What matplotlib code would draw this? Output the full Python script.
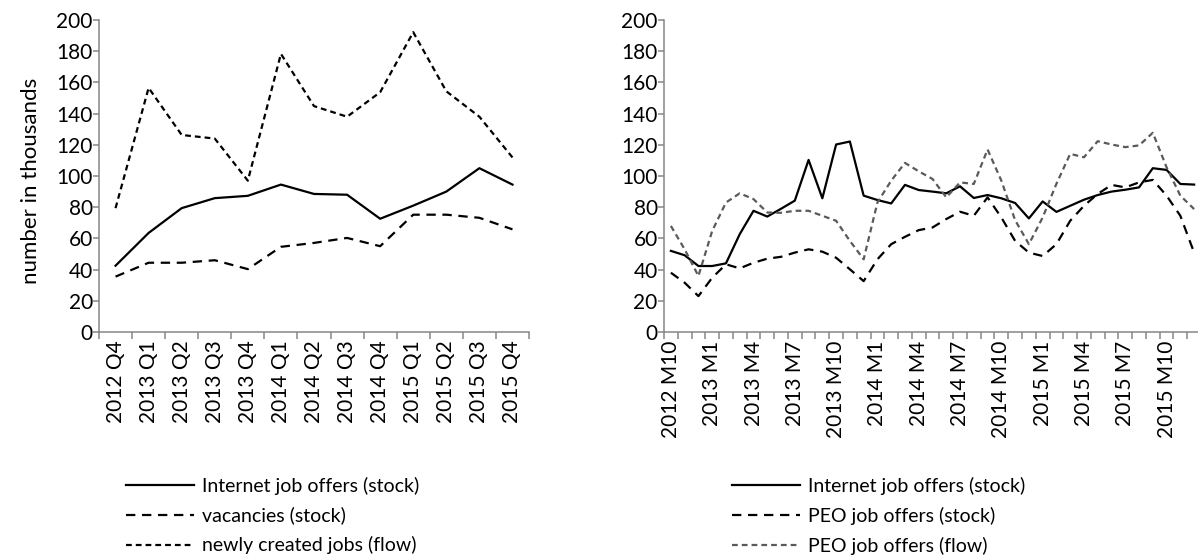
import matplotlib
matplotlib.use("Agg")
import matplotlib.pyplot as plt
from matplotlib.lines import Line2D

plt.rcParams['font.family'] = ['Lato', 'DejaVu Sans']

# left panel: quarterly data, thousands
quarters = ['2012 Q4', '2013 Q1', '2013 Q2', '2013 Q3', '2013 Q4',
            '2014 Q1', '2014 Q2', '2014 Q3', '2014 Q4',
            '2015 Q1', '2015 Q2', '2015 Q3', '2015 Q4']
internet_q = [42.5, 63.5, 79.4, 85.8, 87.3, 94.5, 88.5, 88.0, 72.6, 81.0, 90.0, 105.0, 94.5]
vacancies_q = [35.5, 44.4, 44.4, 46.0, 40.3, 54.6, 57.1, 60.3, 55.0, 75.2, 75.2, 73.2, 65.8]
new_jobs_q = [79.4, 156.5, 126.3, 124.0, 97.0, 178.3, 144.8, 138.0, 153.7, 192.2, 154.3, 138.0, 111.9]

# right panel: monthly data 2012 M10 .. 2015 M12
month_labels = ['2012 M10', '2013 M1', '2013 M4', '2013 M7', '2013 M10',
                '2014 M1', '2014 M4', '2014 M7', '2014 M10',
                '2015 M1', '2015 M4', '2015 M7', '2015 M10']
internet_m = [52, 49.2, 42.3, 42.3, 44, 62.7, 77.7, 74, 79,
              84.2, 110.3, 85.7, 120.2, 122.1, 87.4, 84.6, 82.4, 94.3, 91,
              90, 88.9, 93.4, 85.9, 87.8, 85.7, 82.7, 72.8, 83.7, 77,
              80.9, 84.8, 87.8, 90, 91.2, 92.7, 105, 103.9, 94.9, 94.5]
peo_stock = [38, 31.6, 23, 34.8, 43.4, 40.8, 44.4, 47, 48.2,
             50.9, 53, 51.5, 47.6, 40.2, 32.6, 46.6, 56.3, 61, 65.3,
             67, 72.4, 77.1, 74.5, 86.3, 73.4, 58.4, 50.9, 48.7, 56.3,
             71.3, 80.9, 88.5, 94.3, 92.7, 95.9, 97.5, 87.4, 74.5, 50.9]
peo_flow = [68, 53, 35.9, 64.8, 83, 88.9, 85.2, 76.6, 76.4,
            77.7, 77.7, 74.5, 71.3, 58.4, 46.6, 83, 97, 108.4, 103,
            98.1, 86.3, 95.9, 94.9, 117, 97, 71.7, 56.3, 73.4, 95,
            114.2, 112, 122.3, 120.2, 118.5, 119.6, 127.7, 105.6, 87.4, 78.8]

W, H = 1198, 558
FS = 15
AXC = '#868686'
GRAY = '#5a5a5a'
LW = 1.6
solid = dict(color='black', lw=LW, ls='-')
long_dash = dict(color='black', lw=LW, dashes=(4.2, 3.0))
short_dash = dict(color='black', lw=LW, dashes=(2.6, 1.8))
gray_dash = dict(color=GRAY, lw=LW, dashes=(2.6, 1.8))


def px_axes(fig, x0, y0, x1, y1):
    return fig.add_axes([x0 / W, 1 - y1 / H, (x1 - x0) / W, (y1 - y0) / H])


def style_axes(ax, n):
    for s in ['top', 'right']:
        ax.spines[s].set_visible(False)
    for s in ['left', 'bottom']:
        ax.spines[s].set_color(AXC)
        ax.spines[s].set_linewidth(1.1)
    ax.set_ylim(0, 200)
    ax.set_yticks(range(0, 201, 20))
    ax.set_xlim(-0.5, n - 0.5)
    ax.set_xticks([k - 0.5 for k in range(n + 1)], minor=True)
    ax.tick_params(axis='x', which='minor', length=5, width=1.1, color=AXC)
    ax.tick_params(axis='x', which='major', length=0, pad=6, labelsize=FS)
    ax.tick_params(axis='y', length=4, width=1.1, color=AXC, pad=0.5, labelsize=FS)


fig = plt.figure(figsize=(W / 100, H / 100), dpi=100)

ax1 = px_axes(fig, 99, 20, 529, 332)
x = range(len(quarters))
ax1.plot(x, internet_q, **solid)
ax1.plot(x, vacancies_q, **long_dash)
ax1.plot(x, new_jobs_q, **short_dash)
style_axes(ax1, len(quarters))
ax1.set_xticks(list(x))
ax1.set_xticklabels(quarters, rotation=90)
fig.text(31 / W, 1 - 181 / H, 'number in thousands', rotation=90,
         ha='center', va='center', fontsize=16)

ax2 = px_axes(fig, 664, 20, 1201, 332)
m = range(len(internet_m))
ax2.plot(m, internet_m, **solid)
ax2.plot(m, peo_stock, **long_dash)
ax2.plot(m, peo_flow, **gray_dash)
style_axes(ax2, len(internet_m))
ax2.set_xticks(list(range(0, len(internet_m), 3)))
ax2.set_xticklabels(month_labels, rotation=90)

leg_kw = dict(loc='upper left', frameon=False, fontsize=14, handlelength=3.5,
              handletextpad=0.4, labelspacing=0.6, borderpad=0, borderaxespad=0)
h1 = [Line2D([], [], **solid), Line2D([], [], **long_dash), Line2D([], [], **short_dash)]
fig.legend(h1, ['Internet job offers (stock)', 'vacancies (stock)', 'newly created jobs (flow)'],
           bbox_to_anchor=(126 / W, 1 - 477 / H), **leg_kw)
h2 = [Line2D([], [], **solid), Line2D([], [], **long_dash), Line2D([], [], **gray_dash)]
fig.legend(h2, ['Internet job offers (stock)', 'PEO job offers (stock)', 'PEO job offers (flow)'],
           bbox_to_anchor=(732 / W, 1 - 477 / H), **leg_kw)

fig.savefig('out.png', dpi=100)
